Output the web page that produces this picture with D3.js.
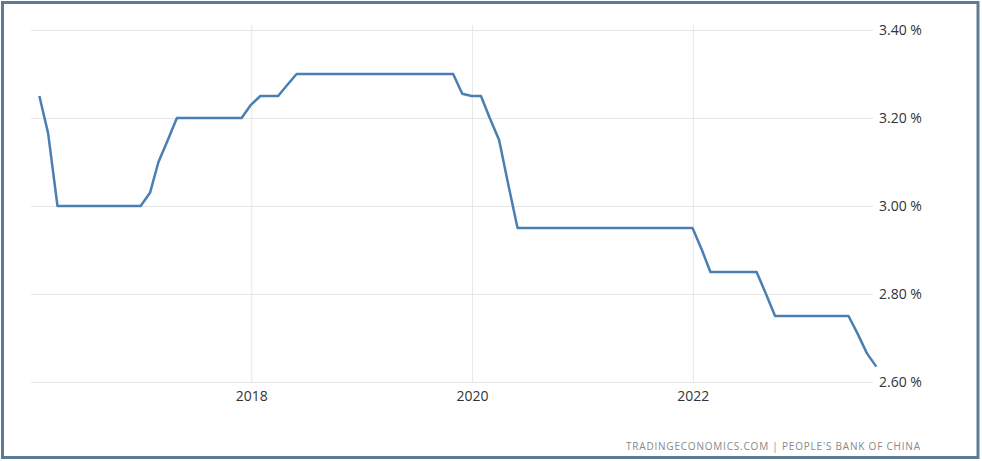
<!DOCTYPE html>
<html>
<head>
<meta charset="utf-8">
<script src="https://cdn.jsdelivr.net/npm/d3@7"></script>
<style>
  body { margin: 0; background: #fff; }
  svg { display: block; font-family: 'Open Sans', 'DejaVu Sans', sans-serif; }
</style>
</head>
<body>
<div class="container"></div>
<script>
// monthly observations, Jan 2016 .. Aug 2023 (dated at month end)
const startMonth = '2016-01';
const rates = [
  3.25, 3.165, 3.00, 3.00, 3.00, 3.00, 3.00, 3.00, 3.00, 3.00, 3.00, 3.00,
  3.03, 3.10, 3.15, 3.20, 3.20, 3.20, 3.20, 3.20, 3.20, 3.20, 3.20, 3.23,
  3.25, 3.25, 3.25, 3.275, 3.30, 3.30, 3.30, 3.30, 3.30, 3.30, 3.30, 3.30,
  3.30, 3.30, 3.30, 3.30, 3.30, 3.30, 3.30, 3.30, 3.30, 3.30, 3.255, 3.25,
  3.25, 3.20, 3.15, 3.05, 2.95, 2.95, 2.95, 2.95, 2.95, 2.95, 2.95, 2.95,
  2.95, 2.95, 2.95, 2.95, 2.95, 2.95, 2.95, 2.95, 2.95, 2.95, 2.95, 2.95,
  2.90, 2.85, 2.85, 2.85, 2.85, 2.85, 2.85, 2.80, 2.75, 2.75, 2.75, 2.75,
  2.75, 2.75, 2.75, 2.75, 2.75, 2.71, 2.665, 2.635
];
const yTicks = [2.6, 2.8, 3.0, 3.2, 3.4];
const xTickYears = [2018, 2020, 2022];
const source = 'TRADINGECONOMICS.COM | PEOPLE\'S BANK OF CHINA';

const renderChart = () => {
  const width = 982;
  const height = 461;
  const plotLeft = 31;
  const plotRight = 873;
  const plotTop = 30;
  const plotBottom = 382;

  const start = d3.timeParse('%Y-%m')(startMonth);
  const data = rates.map((rate, i) => ({
    date: d3.timeDay.offset(d3.timeMonth.offset(start, i + 1), -1),
    rate
  }));

  const svg = d3.select('.container').append('svg').attr('width', width).attr('height', height);

  svg
    .append('rect')
    .attr('x', 2.5)
    .attr('y', 2.5)
    .attr('width', 975.5)
    .attr('height', 455)
    .attr('fill', '#fff')
    .attr('stroke', '#5d7b94')
    .attr('stroke-width', 3);

  const xScale = d3
    .scaleTime()
    .domain([new Date(2016, 0, 1), new Date(2024, 0, 1)])
    .range([30.3, 30.3 + 8 * 110.4]);

  const yScale = d3.scaleLinear().domain([2.6, 3.4]).range([plotBottom, plotTop]);

  const xAxis = d3
    .axisBottom(xScale)
    .tickValues(xTickYears.map(y => new Date(y, 0, 1)))
    .tickFormat(d3.timeFormat('%Y'))
    .tickSize(-(plotBottom - 25))
    .tickPadding(9);

  const xAxisGroup = svg.append('g').attr('class', 'x-axis').attr('transform', `translate(0,${plotBottom})`);
  xAxis(xAxisGroup);

  const yAxis = d3
    .axisRight(yScale)
    .tickValues(yTicks)
    .tickFormat(d => d3.format('.2f')(d) + ' %')
    .tickSize(-(plotRight - plotLeft))
    .tickPadding(6);

  const yAxisGroup = svg.append('g').attr('class', 'y-axis').attr('transform', `translate(${plotRight},0)`);
  yAxis(yAxisGroup);

  svg.selectAll('.domain').remove();
  svg.selectAll('.tick line').attr('stroke', '#e6e6e6').attr('stroke-width', 1);
  svg
    .selectAll('.tick text')
    .attr('fill', '#333')
    .attr('font-size', 14)
    .attr('font-family', "'Open Sans', 'DejaVu Sans', sans-serif");

  const line = d3
    .line()
    .x(d => xScale(d.date))
    .y(d => yScale(d.rate));

  svg
    .append('path')
    .datum(data)
    .attr('d', line)
    .attr('fill', 'none')
    .attr('stroke', '#4a7fb1')
    .attr('stroke-width', 2.5)
    .attr('stroke-linejoin', 'round');

  svg
    .append('text')
    .text(source)
    .attr('x', 920)
    .attr('y', 449.5)
    .attr('text-anchor', 'end')
    .attr('font-size', 10)
    .attr('fill', '#888')
    .attr('textLength', 294)
    .attr('lengthAdjust', 'spacing');
};

renderChart();
</script>
</body>
</html>
